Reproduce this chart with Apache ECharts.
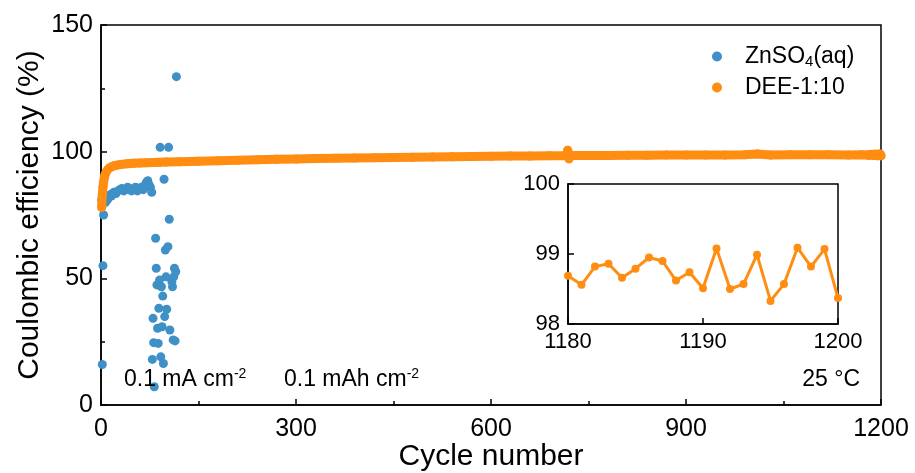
<!DOCTYPE html>
<html>
<head>
<meta charset="utf-8">
<script src="https://cdn.jsdelivr.net/npm/echarts@6/dist/echarts.min.js"></script>
<style>
html, body { margin: 0; padding: 0; background: #fff; }
#chart { width: 915px; height: 473px; }
</style>
</head>
<body>
<div id="chart"></div>
<script>
// ZnSO4(aq): cycle number / coulombic efficiency (%)
let znCycles = [1, 2, 3, 4, 5, 6, 7, 8, 10, 12, 14, 16, 18, 20, 23, 26, 29, 32, 35, 38,
    41, 44, 47, 50, 53, 56, 59, 62, 65, 68, 70, 72, 74, 76, 78,
    79, 80, 81, 82, 84, 85, 86, 87, 88, 89, 90, 91, 92, 93, 94, 95, 96, 97, 98, 99,
    100, 101, 103, 104, 105, 106, 109, 110, 111, 112, 113, 114, 115, 116];
let znCE = [81, 16, 55, 75, 80, 81, 80, 82, 81, 82, 83, 82.5, 83.5, 84, 83.5, 84.5, 85, 85.5, 84.5, 85,
    86, 85, 84.5, 85.5, 86, 84.5, 85.5, 86, 85, 87, 88, 88.5, 87, 86, 84,
    18, 34.2, 24.6, 7.2, 65.8, 54, 47.4, 30.3, 24.3, 38.2, 49.3, 101.7, 19, 46.7, 30.9, 43, 16.4, 89.1, 34.9, 61.2,
    50.6, 37.8, 62.5, 101.7, 73.3, 29.6, 48.7, 46.7, 25.7, 50.6, 54, 25.3, 52.6, 129.6];

// DEE-1:10 (read along the band)
let deeCycles = [1, 2, 3, 4, 5, 6, 8, 10, 13, 16, 20, 25, 30, 40, 50, 60, 70, 80, 90, 100,
    120, 150, 180, 210, 240, 270, 300, 330, 360, 390, 420, 450, 480, 510, 540, 570, 600, 630, 660, 690,
    716, 718, 720, 722, 750, 780, 810, 840, 870, 900, 930, 960, 990, 1010, 1030, 1060, 1090, 1120, 1150, 1170];
let deeCE = [78, 83, 86, 88, 89.5, 90.7, 92, 92.8, 93.6, 94.0, 94.4, 94.7, 94.9, 95.2, 95.4, 95.5, 95.6, 95.7, 95.8, 95.9,
    96.0, 96.2, 96.4, 96.6, 96.8, 97.0, 97.1, 97.3, 97.4, 97.5, 97.6, 97.7, 97.8, 97.9, 98.0, 98.1, 98.2, 98.3, 98.3, 98.4,
    98.4, 100.6, 97.2, 98.5, 98.5, 98.5, 98.6, 98.6, 98.7, 98.7, 98.7, 98.7, 98.8, 99.1, 98.7, 98.8, 98.8, 98.8, 98.7, 98.8];

// inset: last 21 cycles
let insetCycles = [1180, 1181, 1182, 1183, 1184, 1185, 1186, 1187, 1188, 1189, 1190,
    1191, 1192, 1193, 1194, 1195, 1196, 1197, 1198, 1199, 1200];
let insetCE = [98.69, 98.56, 98.82, 98.86, 98.66, 98.79, 98.95, 98.90, 98.62, 98.74, 98.51,
    99.08, 98.50, 98.57, 98.99, 98.33, 98.57, 99.09, 98.82, 99.07, 98.37];

let mainXTicks = [0, 1200, 300];
let mainYTicks = [0, 150, 50];
let insetXTicks = [1180, 1200, 10];
let insetYTicks = [98, 100, 1];

let BLUE = '#3e90c6';
let ORANGE = '#ff8d12';
let FONT = 'Liberation Sans, Arial, sans-serif';

let zip = function(xs, ys) {
    return xs.map(function(x, i) { return [x, ys[i]]; });
};

let myChart = echarts.init(document.getElementById('chart'), null, { renderer: 'canvas' });

let black = { color: '#000', width: 1.5 };

let axisBase = function(ticks, gridIndex, labelSize, minor) {
    return {
        type: 'value',
        gridIndex: gridIndex,
        min: ticks[0],
        max: ticks[1],
        interval: ticks[2],
        axisLine: { show: true, lineStyle: black },
        axisTick: { show: true, inside: true, length: 6, lineStyle: black },
        minorTick: { show: minor, splitNumber: 2, length: 4, lineStyle: black },
        splitLine: { show: false },
        axisLabel: {
            fontSize: labelSize, color: '#000', fontFamily: FONT,
            formatter: function(v) { return String(v); }
        }
    };
};

let xMain = axisBase(mainXTicks, 0, 25, true);
xMain.name = 'Cycle number';
xMain.nameLocation = 'middle';
xMain.nameMoveOverlap = false;
xMain.nameGap = 37;
xMain.nameTextStyle = { fontSize: 30, color: '#000', fontFamily: FONT };
xMain.axisLabel.margin = 12;

let yMain = axisBase(mainYTicks, 0, 25, true);
yMain.name = 'Coulombic efficiency (%)';
yMain.nameLocation = 'middle';
yMain.nameMoveOverlap = false;
yMain.nameGap = 56;
yMain.nameTextStyle = { fontSize: 30, color: '#000', fontFamily: FONT };
yMain.axisLabel.margin = 8;

let xInset = axisBase(insetXTicks, 1, 22, false);
xInset.axisLabel.margin = 7;
let yInset = axisBase(insetYTicks, 1, 22, false);
yInset.axisLabel.margin = 8;

let options = {
    animation: false,
    backgroundColor: '#fff',
    textStyle: { fontFamily: FONT, color: '#000' },
    grid: [
        { left: 101, right: 34, top: 25, bottom: 68, outerBoundsMode: 'none', show: true, borderColor: '#000', borderWidth: 1.5 },
        { left: 568, top: 184, width: 270, height: 140, outerBoundsMode: 'none', show: true, borderColor: '#000', borderWidth: 1.5, backgroundColor: '#fff' }
    ],
    xAxis: [xMain, xInset],
    yAxis: [yMain, yInset],
    legend: {
        data: ['ZnSO4(aq)', 'DEE-1:10'],
        orient: 'vertical',
        left: 707,
        top: 40,
        itemGap: 7,
        itemWidth: 10,
        itemHeight: 10,
        icon: 'circle',
        formatter: function(name) {
            if (name === 'ZnSO4(aq)') {
                return '{g|}{a|ZnSO}{b|4}{a|(aq)}';
            }
            return '{g|}{a|' + name + '}';
        },
        textStyle: {
            rich: {
                g: { width: 18 },
                a: { fontSize: 23, color: '#000', fontFamily: FONT, lineHeight: 25 },
                b: { fontSize: 15, color: '#000', fontFamily: FONT, verticalAlign: 'bottom', lineHeight: 15 }
            }
        }
    },
    series: [
        {
            name: 'ZnSO4(aq)',
            type: 'scatter',
            xAxisIndex: 0,
            yAxisIndex: 0,
            symbol: 'circle',
            symbolSize: 9,
            itemStyle: { color: BLUE, opacity: 1 },
            data: zip(znCycles, znCE),
            z: 2
        },
        {
            name: 'DEE-1:10',
            type: 'line',
            xAxisIndex: 0,
            yAxisIndex: 0,
            symbol: 'circle',
            symbolSize: 9,
            showSymbol: true,
            lineStyle: { color: ORANGE, width: 9, cap: 'round', join: 'round' },
            itemStyle: { color: ORANGE },
            data: zip(deeCycles.concat(insetCycles), deeCE.concat(insetCE)),
            z: 3
        },
        {
            name: 'inset',
            type: 'line',
            xAxisIndex: 1,
            yAxisIndex: 1,
            symbol: 'circle',
            symbolSize: 8,
            showSymbol: true,
            lineStyle: { color: ORANGE, width: 3 },
            itemStyle: { color: ORANGE },
            data: zip(insetCycles, insetCE),
            z: 6
        }
    ],
    graphic: [
        {
            type: 'text', left: 124, top: 367, z: 10,
            style: {
                text: '{t|0.1 mA cm}{s|-2}',
                rich: {
                    t: { fontSize: 23, fill: '#000', fontFamily: FONT, lineHeight: 26 },
                    s: { fontSize: 14, fill: '#000', fontFamily: FONT, verticalAlign: 'top', lineHeight: 14 }
                }
            }
        },
        {
            type: 'text', left: 284, top: 367, z: 10,
            style: {
                text: '{t|0.1 mAh cm}{s|-2}',
                rich: {
                    t: { fontSize: 23, fill: '#000', fontFamily: FONT, lineHeight: 26 },
                    s: { fontSize: 14, fill: '#000', fontFamily: FONT, verticalAlign: 'top', lineHeight: 14 }
                }
            }
        },
        {
            type: 'text', right: 55, top: 368, z: 10,
            style: { text: '25 °C', fontSize: 23, fill: '#000', fontFamily: FONT }
        }
    ]
};

myChart.setOption(options);
</script>
</body>
</html>
